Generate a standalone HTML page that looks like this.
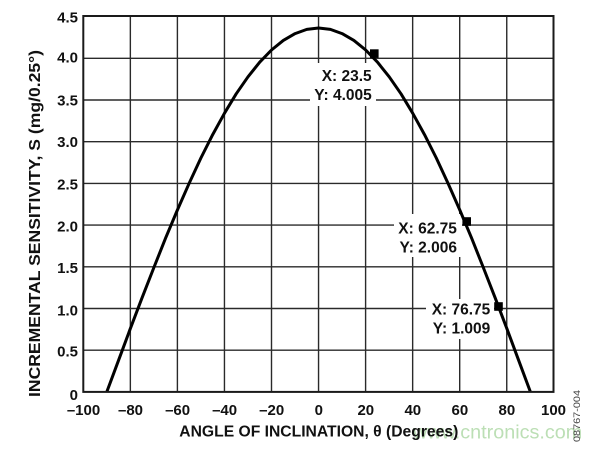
<!DOCTYPE html>
<html><head><meta charset="utf-8"><style>
html,body{margin:0;padding:0;background:#fff;}
svg{display:block;}
text{font-family:"Liberation Sans",Arial,sans-serif;}
</style></head><body>
<svg width="600" height="449" viewBox="0 0 600 449" xmlns="http://www.w3.org/2000/svg">
<rect width="600" height="449" fill="#fff"/>
<g stroke="#2a2a2a" stroke-width="1.4">
<line x1="130.35" y1="16" x2="130.35" y2="392"/>
<line x1="177.4" y1="16" x2="177.4" y2="392"/>
<line x1="224.45" y1="16" x2="224.45" y2="392"/>
<line x1="271.5" y1="16" x2="271.5" y2="392"/>
<line x1="318.55" y1="16" x2="318.55" y2="392"/>
<line x1="365.6" y1="16" x2="365.6" y2="392"/>
<line x1="412.65" y1="16" x2="412.65" y2="392"/>
<line x1="459.7" y1="16" x2="459.7" y2="392"/>
<line x1="506.75" y1="16" x2="506.75" y2="392"/>
<line x1="83.3" y1="350.2" x2="553.5" y2="350.2"/>
<line x1="83.3" y1="308.5" x2="553.5" y2="308.5"/>
<line x1="83.3" y1="266.8" x2="553.5" y2="266.8"/>
<line x1="83.3" y1="225.1" x2="553.5" y2="225.1"/>
<line x1="83.3" y1="183.4" x2="553.5" y2="183.4"/>
<line x1="83.3" y1="141.7" x2="553.5" y2="141.7"/>
<line x1="83.3" y1="100" x2="553.5" y2="100"/>
<line x1="83.3" y1="58.3" x2="553.5" y2="58.3"/>
</g>
<!-- label backgrounds -->
<rect x="310" y="63" width="66" height="43" fill="#fff"/>
<rect x="394" y="214" width="68" height="43" fill="#fff"/>
<rect x="426" y="299" width="68" height="40" fill="#fff"/>
<!-- curve -->
<polyline fill="none" stroke="#000" stroke-width="3" stroke-linejoin="round" points="106.8,391.9 118.6,360.2 130.3,328.7 142.1,297.7 153.9,267.5 165.6,238.1 177.4,210.0 189.2,183.2 200.9,158.0 212.7,134.6 224.5,113.2 236.2,93.8 248.0,76.8 259.8,62.1 271.5,50.0 283.3,40.4 295.1,33.6 306.8,29.4 318.6,28.0 330.4,29.4 342.1,33.6 353.9,40.4 365.7,50.0 377.4,62.1 389.2,76.8 401.0,93.8 412.7,113.2 424.5,134.6 436.3,158.0 448.0,183.2 459.8,210.0 471.6,238.1 483.3,267.5 495.1,297.7 506.9,328.7 518.6,360.2 530.4,391.9"/>
<!-- markers -->
<rect x="370" y="49.3" width="8.6" height="8.6" fill="#000"/>
<rect x="462.4" y="217.2" width="8.6" height="8.6" fill="#000"/>
<rect x="494.2" y="302.2" width="8.6" height="8.6" fill="#000"/>
<!-- annotations -->
<g font-size="15.5" font-weight="bold" fill="#111">
<text x="321.7" y="81">X: 23.5</text>
<text x="314.3" y="100">Y: 4.005</text>
<text x="398.3" y="233.3">X: 62.75</text>
<text x="399.5" y="252.3">Y: 2.006</text>
<text x="431.7" y="314.3">X: 76.75</text>
<text x="432.8" y="333.3">Y: 1.009</text>
</g>
<!-- border -->
<rect x="83.3" y="16" width="470.2" height="375.9" fill="none" stroke="#1a1a1a" stroke-width="2"/>
<!-- y tick labels -->
<g font-size="15" font-weight="bold" fill="#111" text-anchor="end">
<text x="78" y="400">0</text>
<text x="78" y="356.5">0.5</text>
<text x="78" y="315.5">1.0</text>
<text x="78" y="273">1.5</text>
<text x="78" y="231.5">2.0</text>
<text x="78" y="189.5">2.5</text>
<text x="78" y="147">3.0</text>
<text x="78" y="105.5">3.5</text>
<text x="78" y="62.3">4.0</text>
<text x="78" y="22.5">4.5</text>
</g>
<!-- x tick labels -->
<g font-size="15" font-weight="bold" fill="#111" text-anchor="middle">
<text x="83.5" y="415">–100</text>
<text x="130.5" y="415">–80</text>
<text x="177.6" y="415">–60</text>
<text x="224.6" y="415">–40</text>
<text x="271.7" y="415">–20</text>
<text x="318.8" y="415">0</text>
<text x="365.8" y="415">20</text>
<text x="412.8" y="415">40</text>
<text x="459.9" y="415">60</text>
<text x="506.9" y="415">80</text>
<text x="553.5" y="415">100</text>
</g>
<!-- watermark -->
<text x="413" y="438.5" font-size="19.8" fill="#bcdfb5">www.cntronics.com</text>
<!-- axis titles -->
<text x="179.3" y="436.7" font-size="15.5" font-weight="bold" fill="#111" textLength="279" lengthAdjust="spacingAndGlyphs">ANGLE OF INCLINATION, θ (Degrees)</text>
<text transform="translate(40,223.5) rotate(-90)" text-anchor="middle" font-size="16" font-weight="bold" fill="#111" textLength="347" lengthAdjust="spacingAndGlyphs">INCREMENTAL SENSITIVITY, S (mg/0.25°)</text>
<text transform="translate(580,416) rotate(-90)" text-anchor="middle" font-size="9.5" fill="#444" textLength="52" lengthAdjust="spacingAndGlyphs">08767-004</text>
</svg>
</body></html>
